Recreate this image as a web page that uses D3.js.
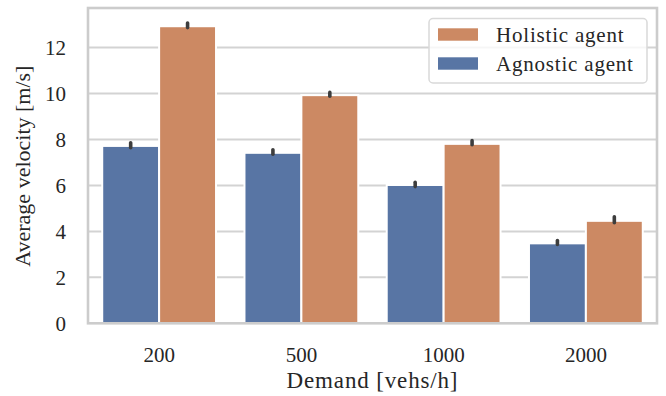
<!DOCTYPE html>
<html>
<head>
<meta charset="utf-8">
<script src="https://cdn.jsdelivr.net/npm/d3@7"></script>
<style>
  html, body { margin: 0; padding: 0; background: #fff; }
  svg { display: block; }
  text { font-family: "Liberation Serif", "DejaVu Serif", serif; fill: #262626; }
</style>
</head>
<body>
<svg id="chart" width="666" height="396"></svg>
<script>
// Demand levels (x categories)
const demands = ["200", "500", "1000", "2000"];
// Series, in drawing order within each group
const seriesNames = ["Agnostic agent", "Holistic agent"];
const seriesColors = ["#5875a4", "#cc8963"];
// Mean velocity per demand level [m/s]
const agnosticMean = [7.72, 7.42, 6.02, 3.48];
const holisticMean = [12.93, 9.93, 7.81, 4.46];
// Confidence interval bounds
const agnosticLow  = [7.64, 7.36, 5.95, 3.43];
const agnosticHigh = [7.86, 7.55, 6.14, 3.60];
const holisticLow  = [12.87, 9.88, 7.77, 4.38];
const holisticHigh = [13.07, 10.05, 7.95, 4.64];
const yTicks = [0, 2, 4, 6, 8, 10, 12];

const means = [agnosticMean, holisticMean];
const lows = [agnosticLow, holisticLow];
const highs = [agnosticHigh, holisticHigh];

const svg = d3.select("#chart");
const plot = { left: 88, right: 657, top: 8, bottom: 323.3 };

const yMax = d3.max(highs.flat()) * 1.05;
const y = d3.scaleLinear().domain([0, yMax]).range([plot.bottom, plot.top]);
const x = d3.scaleBand().domain(demands).range([plot.left, plot.right]).paddingInner(0).paddingOuter(0);
const groupW = x.step() * 0.8;
const xs = d3.scaleBand().domain(seriesNames).range([0, groupW]);
const groupOffset = (x.step() - groupW) / 2;

// Horizontal grid
svg.append("g")
  .selectAll("line")
  .data(yTicks.filter(t => t > 0))
  .join("line")
  .attr("x1", plot.left).attr("x2", plot.right)
  .attr("y1", d => y(d)).attr("y2", d => y(d))
  .attr("stroke", "#d3d3d3").attr("stroke-width", 2);

// Bars
const rows = [];
seriesNames.forEach((s, si) => {
  demands.forEach((d, di) => {
    rows.push({ s, si, d, v: means[si][di], lo: lows[si][di], hi: highs[si][di] });
  });
});

svg.append("g")
  .selectAll("rect")
  .data(rows)
  .join("rect")
  .attr("x", r => x(r.d) + groupOffset + xs(r.s))
  .attr("width", xs.bandwidth())
  .attr("y", r => y(r.v))
  .attr("height", r => y(0) - y(r.v))
  .attr("fill", r => seriesColors[r.si])
  .attr("stroke", "#ffffff").attr("stroke-width", 2);

// Error bars
svg.append("g")
  .selectAll("line")
  .data(rows)
  .join("line")
  .attr("x1", r => x(r.d) + groupOffset + xs(r.s) + xs.bandwidth() / 2)
  .attr("x2", r => x(r.d) + groupOffset + xs(r.s) + xs.bandwidth() / 2)
  .attr("y1", r => y(r.lo)).attr("y2", r => y(r.hi))
  .attr("stroke", "#3d3d3d").attr("stroke-width", 3.6).attr("stroke-linecap", "round");

// Frame
svg.append("rect")
  .attr("x", plot.left).attr("y", plot.top)
  .attr("width", plot.right - plot.left).attr("height", plot.bottom - plot.top)
  .attr("fill", "none").attr("stroke", "#cccccc").attr("stroke-width", 2.6);

// Y axis
const yAxis = d3.axisLeft(y).tickValues(yTicks).tickSize(0).tickPadding(0).tickFormat(d3.format("d"));
const gy = svg.append("g").attr("transform", `translate(${plot.left - 22},0)`).call(yAxis);
gy.select(".domain").remove();
gy.selectAll("text").attr("font-size", 21).attr("font-family", "Liberation Serif").attr("fill", "#262626").attr("dy", "0.34em");

// X axis
const xAxis = d3.axisBottom(x).tickSize(0).tickPadding(0);
const gx = svg.append("g").attr("transform", `translate(0,${plot.bottom + 23})`).call(xAxis);
gx.select(".domain").remove();
gx.selectAll("text").attr("font-size", 21).attr("font-family", "Liberation Serif").attr("fill", "#262626").attr("dy", "0.75em");

// Axis titles
svg.append("text")
  .attr("x", (plot.left + plot.right) / 2).attr("y", 388)
  .attr("text-anchor", "middle").attr("font-size", 23)
  .attr("letter-spacing", "0.85px")
  .text("Demand [vehs/h]");

svg.append("text")
  .attr("transform", `translate(30,${(plot.top + plot.bottom) / 2 + 0.5}) rotate(-90)`)
  .attr("text-anchor", "middle").attr("font-size", 22)
  .text("Average velocity [m/s]");

// Legend (Holistic listed first)
const legendOrder = [1, 0];
const lg = svg.append("g");
lg.append("rect")
  .attr("x", 429).attr("y", 18.5).attr("width", 218).attr("height", 64.5)
  .attr("rx", 4).attr("fill", "#ffffff").attr("fill-opacity", 0.8)
  .attr("stroke", "#d9d9d9").attr("stroke-width", 1.5);
legendOrder.forEach((si, i) => {
  const cy = 34.5 + i * 29;
  lg.append("rect")
    .attr("x", 438).attr("y", cy - 6.2).attr("width", 40).attr("height", 12.4)
    .attr("fill", seriesColors[si]);
  lg.append("text")
    .attr("x", 496).attr("y", cy).attr("dy", "0.34em")
    .attr("font-size", 21).attr("letter-spacing", "0.8px")
    .text(seriesNames[si]);
});
</script>
</body>
</html>
